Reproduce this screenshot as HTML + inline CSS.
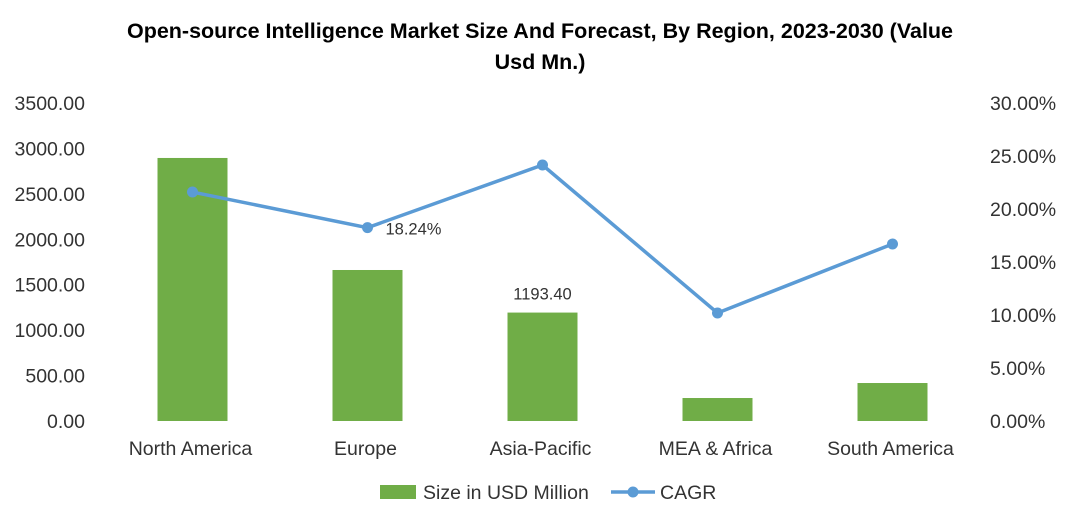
<!DOCTYPE html>
<html><head><meta charset="utf-8"><style>
body{margin:0;background:#fff;font-family:"Liberation Sans",sans-serif;}
svg text{font-family:"Liberation Sans",sans-serif;}
</style></head><body>
<svg id="chart" width="1081" height="525">
<text x="540" y="38" text-anchor="middle" font-size="21.5" font-weight="bold" fill="#000">Open-source Intelligence Market Size And Forecast, By Region, 2023-2030 (Value</text>
<text x="540" y="69" text-anchor="middle" font-size="21.5" font-weight="bold" fill="#000">Usd Mn.)</text>
<g id="g"></g>
</svg>
<script>
const categories=["North America","Europe","Asia-Pacific","MEA & Africa","South America"];
const sizes=[2895,1662,1193.40,253,418];
const cagr=[21.6,18.24,24.15,10.19,16.7];
const leftTicks=[0,500,1000,1500,2000,2500,3000,3500];
const rightTicks=[0,5,10,15,20,25,30];
const NS="http://www.w3.org/2000/svg";
const g=document.getElementById('g');
const y0=421,y1=103,x0=105,step=175;
const yL=v=>y0-(v/3500)*(y0-y1);
const yR=v=>y0-(v/30)*(y0-y1);
const xC=i=>x0+step*(i+0.5);
function mk(t,a,txt){const e=document.createElementNS(NS,t);for(const k in a)e.setAttribute(k,a[k]);if(txt!==undefined)e.textContent=txt;g.appendChild(e);return e;}
leftTicks.forEach(v=>{const e=mk('text',{x:85,y:yL(v)+7,'text-anchor':'end','font-size':19.5,fill:'#333'},v.toFixed(2));

});
rightTicks.forEach(v=>{const e=mk('text',{x:990,y:yR(v)+7,'font-size':19.5,fill:'#333'},v.toFixed(2)+'%');

});
categories.forEach((c,i)=>{const e=mk('text',{x:xC(i)-2,y:455,'text-anchor':'middle','font-size':19.5,fill:'#333'},c);

});
sizes.forEach((v,i)=>{const e=mk('rect',{x:xC(i)-35,y:yL(v),width:70,height:y0-yL(v),fill:'#70ad47'});

});
const lbl=mk('text',{x:xC(2),y:yL(sizes[2])-13,'text-anchor':'middle','font-size':16.5,fill:'#333'},sizes[2].toFixed(2));


const pl=mk('polyline',{points:cagr.map((v,i)=>xC(i)+','+yR(v)).join(' '),fill:'none',stroke:'#5b9bd5','stroke-width':3.5});


cagr.forEach((v,i)=>{const e=mk('circle',{cx:xC(i),cy:yR(v),r:5.5,fill:'#5b9bd5'});

});
const cl=mk('text',{x:xC(1)+18,y:yR(cagr[1])+7,'font-size':16.5,fill:'#333'},cagr[1].toFixed(2)+'%');


const lr=mk('rect',{x:380,y:485,width:36,height:14,fill:'#70ad47'});


const lt=mk('text',{x:423,y:499,'font-size':19.5,fill:'#333'},'Size in USD Million');


const ll=mk('line',{x1:611,y1:492,x2:655,y2:492,stroke:'#5b9bd5','stroke-width':3.5});


const lc=mk('circle',{cx:633,cy:492,r:5.5,fill:'#5b9bd5'});


const lt2=mk('text',{x:660,y:499,'font-size':19.5,fill:'#333'},'CAGR');


</script>
</body></html>
